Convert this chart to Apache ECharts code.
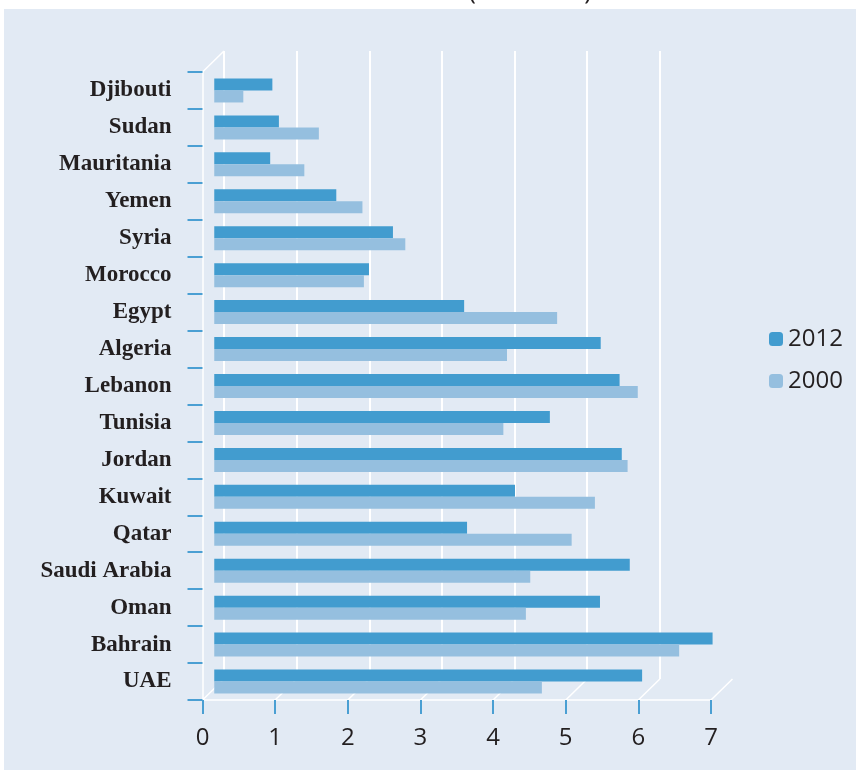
<!DOCTYPE html>
<html>
<head>
<meta charset="utf-8">
<script src="https://cdn.jsdelivr.net/npm/echarts@6/dist/echarts.min.js"></script>
<style>
  html, body { margin: 0; padding: 0; background: #fff; }
  #chart { width: 856px; height: 770px; }
</style>
</head>
<body>
<div id="chart"></div>
<script>
// categories, top to bottom
const countries = ['Djibouti', 'Sudan', 'Mauritania', 'Yemen', 'Syria', 'Morocco', 'Egypt', 'Algeria',
  'Lebanon', 'Tunisia', 'Jordan', 'Kuwait', 'Qatar', 'Saudi Arabia', 'Oman', 'Bahrain', 'UAE']
const values2012 = [0.80, 0.89, 0.77, 1.68, 2.46, 2.13, 3.44, 5.32, 5.58, 4.62, 5.61, 4.14, 3.48, 5.72, 5.31, 6.86, 5.89]
const values2000 = [0.40, 1.44, 1.24, 2.04, 2.63, 2.06, 4.72, 4.03, 5.83, 3.98, 5.69, 5.24, 4.92, 4.35, 4.29, 6.40, 4.51]
const xTicks = [0, 1, 2, 3, 4, 5, 6, 7]

// layout of the fake 3d box
const FRONT_LEFT = 202.5
const TOP = 72
const PLOT_W = 508.5
const PLOT_H = 628
const DEPTH_X = 21.5
const DEPTH_Y = 21

const BG = '#e2eaf4'
const TEXT = '#231f20'
const TICK = '#4a9fd3'

const chart = echarts.init(document.getElementById('chart'))

const unit = PLOT_W / (xTicks.length - 1)
const bottom = TOP + PLOT_H

// floor slants + top left slant
const slants = xTicks.map(t => ({
  type: 'line',
  z: 0,
  shape: {
    x1: FRONT_LEFT + t * unit, y1: bottom,
    x2: FRONT_LEFT + t * unit + DEPTH_X, y2: bottom - DEPTH_Y
  },
  style: { stroke: '#fff', lineWidth: 1.5 }
}))
slants.push({
  type: 'line',
  z: 0,
  shape: { x1: FRONT_LEFT, y1: TOP, x2: FRONT_LEFT + DEPTH_X, y2: TOP - DEPTH_Y },
  style: { stroke: '#fff', lineWidth: 1.5 }
})

chart.setOption({
  backgroundColor: BG,
  animation: false,
  graphic: [
    { type: 'rect', z: 0, shape: { x: 0, y: 0, width: 856, height: 9 }, style: { fill: '#fff' } },
    { type: 'rect', z: 0, shape: { x: 0, y: 0, width: 4, height: 770 }, style: { fill: '#fff' } },
    {
      type: 'text', z: 1, x: 530, y: -8,
      style: {
        text: '(% of GDP)', fill: TEXT, font: '25px "Open Sans"',
        align: 'center', verticalAlign: 'middle'
      }
    },
    ...slants
  ],
  legend: {
    orient: 'vertical',
    left: 764,
    top: 322,
    itemWidth: 14,
    itemHeight: 14,
    itemGap: 18,
    data: ['2012', '2000'],
    textStyle: { fontFamily: 'Open Sans', fontSize: 24, color: TEXT }
  },
  grid: [
    { left: FRONT_LEFT + DEPTH_X / 2 + 1, top: TOP, width: PLOT_W, height: PLOT_H },
    { left: FRONT_LEFT, top: TOP, width: PLOT_W, height: PLOT_H },
    { left: FRONT_LEFT + DEPTH_X, top: TOP - DEPTH_Y, width: PLOT_W, height: PLOT_H }
  ],
  xAxis: [
    { gridIndex: 0, type: 'value', min: 0, max: 7, show: false },
    {
      gridIndex: 1,
      type: 'value',
      min: 0,
      max: 7,
      interval: 1,
      axisLine: { show: true, lineStyle: { color: '#fff', width: 1.5 } },
      axisTick: { show: true, length: 14, lineStyle: { color: TICK, width: 2 } },
      axisLabel: { margin: 26, fontFamily: 'Open Sans', fontSize: 24, color: TEXT },
      splitLine: { show: false }
    },
    {
      gridIndex: 2,
      type: 'value',
      min: 0,
      max: 7,
      interval: 1,
      axisLine: { show: false },
      axisTick: { show: false },
      axisLabel: { show: false },
      splitLine: {
        show: true,
        lineStyle: { color: ['#fff', '#fff', '#fff', '#fff', '#fff', '#fff', '#fff', 'rgba(0,0,0,0)'], width: 2 }
      }
    }
  ],
  yAxis: [
    { gridIndex: 0, type: 'category', data: countries, inverse: true, show: false },
    {
      gridIndex: 1,
      type: 'category',
      data: countries,
      inverse: true,
      axisLine: { show: true, lineStyle: { color: '#fff', width: 1.5 } },
      axisTick: { show: true, length: 15, lineStyle: { color: TICK, width: 2 } },
      axisLabel: {
        margin: 31,
        fontFamily: 'Liberation Serif',
        fontWeight: 'bold',
        fontSize: 23,
        color: TEXT,
        padding: [0, 0, 5, 0]
      },
      splitLine: { show: false }
    },
    { gridIndex: 2, type: 'category', data: countries, inverse: true, show: false }
  ],
  series: [
    {
      name: '2012',
      type: 'bar',
      xAxisIndex: 0,
      yAxisIndex: 0,
      barWidth: 12,
      barGap: '0%',
      z: 3,
      itemStyle: { color: '#429ccf' },
      data: values2012
    },
    {
      name: '2000',
      type: 'bar',
      xAxisIndex: 0,
      yAxisIndex: 0,
      barWidth: 12,
      barGap: '0%',
      z: 3,
      itemStyle: { color: '#95bfdf' },
      data: values2000
    }
  ]
})
</script>
</body>
</html>
